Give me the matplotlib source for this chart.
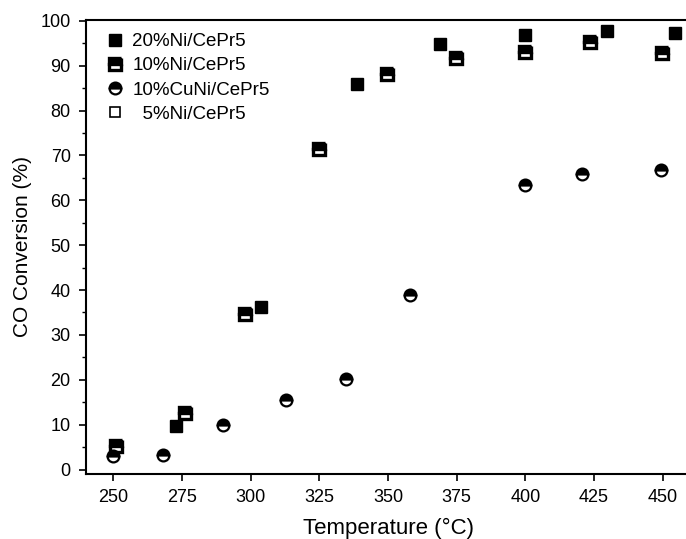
import numpy as np
import matplotlib
matplotlib.use("Agg")
import matplotlib.pyplot as plt
from matplotlib.ticker import MultipleLocator

plt.rcParams['font.family'] = ['Liberation Sans', 'DejaVu Sans']

# ---- data ----
t_20ni = [272.8, 303.8, 338.7, 368.8, 399.8, 429.7, 454.7]
c_20ni = [9.8, 36.2, 86.0, 94.8, 96.9, 97.8, 97.2]

t_10ni = [251.0, 275.9, 298.0, 324.8, 349.7, 374.7, 399.8, 423.7, 449.7]
c_10ni = [5.2, 12.6, 34.6, 71.4, 88.2, 91.7, 93.0, 95.2, 92.8]

t_10cuni = [249.7, 268.0, 289.8, 312.9, 334.8, 357.9, 400.0, 420.8, 449.6]
c_10cuni = [3.0, 3.3, 9.9, 15.4, 20.2, 39.0, 63.5, 65.9, 66.8]

t_5ni = []
c_5ni = []

labels = ['20%Ni/CePr5', '10%Ni/CePr5', '10%CuNi/CePr5', '  5%Ni/CePr5']
x_ticks = [250, 275, 300, 325, 350, 375, 400, 425, 450]

fig = plt.figure(figsize=(6.86, 5.39), dpi=100)
ax = fig.add_axes([0.1254, 0.1206, 0.8805, 0.8423])

ms = 8.5
ax.plot(t_20ni, c_20ni, 's', ms=ms, color='black', mec='black', label=labels[0])
ax.plot(t_10ni, c_10ni, 's', ms=ms - 0.5, color='black', mec='black', mew=2.4,
        fillstyle='top', markerfacecoloralt='white', label=labels[1])
ax.plot(t_10cuni, c_10cuni, 'o', ms=ms, color='black', mec='black', mew=1.6,
        fillstyle='top', markerfacecoloralt='white', label=labels[2])
ax.plot(t_5ni, c_5ni, 's', ms=ms - 1, color='black', mec='black', mew=1.2,
        mfc='white', label=labels[3])

ax.set_xlim(240, 460)
ax.set_ylim(-1, 100.2)
ax.set_xticks(x_ticks)
ax.yaxis.set_major_locator(MultipleLocator(10))
ax.yaxis.set_minor_locator(MultipleLocator(5))
ax.tick_params(axis='both', which='major', direction='out', length=5, width=1.2,
               labelsize=13, pad=6)
ax.tick_params(axis='y', which='minor', direction='out', length=3, width=1.0)
for sp in ax.spines.values():
    sp.set_linewidth(1.5)

ax.set_xlabel('Temperature (°C)', fontsize=16, labelpad=8)
ax.set_ylabel('CO Conversion (%)', fontsize=15, labelpad=6)

ax.legend(loc='upper left', frameon=False, fontsize=13.5, handletextpad=0.45,
          handlelength=1.0, borderaxespad=0.3, labelspacing=0.38,
          bbox_to_anchor=(0.01, 1.0))

fig.savefig('out.png', dpi=100)
